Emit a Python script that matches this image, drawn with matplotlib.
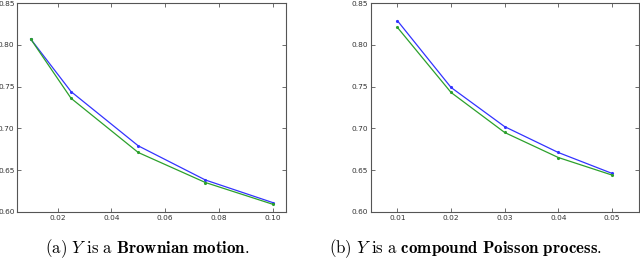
import matplotlib
matplotlib.use("Agg")
import matplotlib.pyplot as plt

plt.rcParams["mathtext.fontset"] = "cm"

# (a) Brownian motion
x_a = [0.01, 0.025, 0.05, 0.075, 0.10]
blue_a = [0.807, 0.744, 0.679, 0.638, 0.611]
green_a = [0.807, 0.736, 0.671, 0.635, 0.609]

# (b) compound Poisson process
x_b = [0.01, 0.02, 0.03, 0.04, 0.05]
blue_b = [0.829, 0.749, 0.702, 0.671, 0.646]
green_b = [0.821, 0.743, 0.695, 0.665, 0.644]

xticks_a = [0.02, 0.04, 0.06, 0.08, 0.10]
xticks_b = [0.01, 0.02, 0.03, 0.04, 0.05]
yticks = [0.60, 0.65, 0.70, 0.75, 0.80, 0.85]

captions = [r"$\mathrm{(a)}\ Y\ \mathrm{is\ a}\ \mathbf{Brownian\ motion.}$",
            r"$\mathrm{(b)}\ Y\ \mathrm{is\ a}\ \mathbf{compound\ Poisson\ process.}$"]

fig = plt.figure(figsize=(6.4, 2.64), dpi=100)
ax1 = fig.add_axes([0.027, 0.198, 0.420, 0.790])
ax2 = fig.add_axes([0.579, 0.198, 0.419, 0.790])

for ax, x, b, g, xt, xl in [(ax1, x_a, blue_a, green_a, xticks_a, (0.005, 0.105)),
                            (ax2, x_b, blue_b, green_b, xticks_b, (0.005, 0.055))]:
    ax.plot(x, b, color="#3333ff", lw=0.9, marker=".", ms=2.5)
    ax.plot(x, g, color="#2ca02c", lw=0.9, marker=".", ms=2.5)
    ax.set_xlim(*xl)
    ax.set_ylim(0.60, 0.85)
    ax.set_xticks(xt)
    ax.set_xticklabels([f"{v:.2f}" for v in xt])
    ax.set_yticks(yticks)
    ax.set_yticklabels([f"{v:.2f}" for v in yticks])
    ax.tick_params(direction="in", top=True, right=True, length=3, width=0.5,
                   labelsize=5.3, pad=2, colors="#333333")
    for s in ax.spines.values():
        s.set_linewidth(0.8)
        s.set_color("#555555")

fig.text(0.2305, 0.06, captions[0], ha="center", va="center", fontsize=12.2)
fig.text(0.728, 0.06, captions[1], ha="center", va="center", fontsize=12.2)

fig.savefig("out.png", dpi=100)
